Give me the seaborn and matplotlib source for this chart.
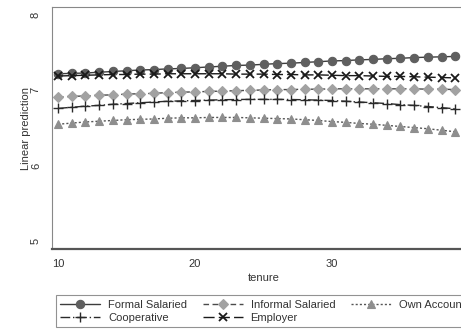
import matplotlib
matplotlib.use("Agg")
import matplotlib.pyplot as plt
import seaborn as sns
import numpy as np
from matplotlib.lines import Line2D

sns.set_style("white")
plt.rcParams['font.family'] = ['Liberation Sans', 'DejaVu Sans']

tenure = list(range(10, 40))
formal = [7.22, 7.225, 7.23, 7.24, 7.25, 7.26, 7.27, 7.275, 7.285, 7.29,
          7.30, 7.31, 7.32, 7.33, 7.335, 7.345, 7.355, 7.36, 7.37, 7.38,
          7.39, 7.395, 7.405, 7.41, 7.42, 7.425, 7.435, 7.44, 7.445, 7.45]
informal = [6.91, 6.92, 6.925, 6.935, 6.94, 6.95, 6.955, 6.96, 6.97, 6.975,
            6.98, 6.985, 6.99, 6.995, 7.0, 7.005, 7.01, 7.01, 7.015, 7.015,
            7.02, 7.02, 7.02, 7.02, 7.02, 7.02, 7.02, 7.015, 7.015, 7.01]
own_account = [6.55, 6.565, 6.58, 6.59, 6.60, 6.61, 6.615, 6.62, 6.63, 6.635,
               6.635, 6.64, 6.64, 6.64, 6.635, 6.63, 6.625, 6.62, 6.61, 6.60,
               6.585, 6.575, 6.56, 6.55, 6.535, 6.52, 6.505, 6.49, 6.47, 6.45]
cooperative = [6.76, 6.775, 6.79, 6.80, 6.815, 6.825, 6.835, 6.845, 6.855, 6.86,
               6.865, 6.87, 6.875, 6.878, 6.88, 6.88, 6.88, 6.878, 6.875, 6.87,
               6.865, 6.855, 6.845, 6.835, 6.825, 6.81, 6.80, 6.785, 6.77, 6.755]
employer = [7.19, 7.195, 7.20, 7.205, 7.21, 7.21, 7.215, 7.215, 7.22, 7.22,
            7.22, 7.22, 7.22, 7.215, 7.215, 7.215, 7.21, 7.21, 7.205, 7.205,
            7.20, 7.195, 7.195, 7.19, 7.185, 7.185, 7.18, 7.175, 7.17, 7.165]

names = ["Formal Salaried", "Informal Salaried", "Own Account", "Cooperative", "Employer"]
values = [formal, informal, own_account, cooperative, employer]
styles = [
    dict(color="#3c3c3c", linestyle="-", marker="o", mfc="#5f5f5f", mec="#5f5f5f", ms=6, mew=0.8),
    dict(color="#4a4a4a", linestyle=(0, (4, 2.5)), marker="D", mfc="#a2a2a2", mec="#a2a2a2", ms=4.8, mew=0.8),
    dict(color="#555555", linestyle=(0, (1.5, 1.5)), marker="^", mfc="#8e8e8e", mec="#8e8e8e", ms=5.5, mew=0.8),
    dict(color="#2a2a2a", linestyle=(0, (7, 2, 1, 2)), marker="+", mfc="#2a2a2a", mec="#2a2a2a", ms=7.5, mew=1.0),
    dict(color="#1a1a1a", linestyle=(0, (8, 3)), marker="x", mfc="#1a1a1a", mec="#1a1a1a", ms=5.5, mew=1.3),
]

fig = plt.figure(figsize=(4.61, 3.29), dpi=100)
ax = fig.add_axes([52/461, 80/329, 423/461, 242/329])

for name, vals, st in zip(names, values, styles):
    sns.lineplot(x=tenure, y=vals, ax=ax, color=st["color"], linestyle=st["linestyle"],
                 marker=st["marker"], markerfacecolor=st["mfc"], markeredgecolor=st["mec"],
                 markersize=st["ms"], markeredgewidth=st["mew"], linewidth=1.0,
                 label=name, legend=False)

ax.set_xlim(9.56, 40.44)
ax.set_ylim(4.894, 8.106)
ax.set_xticks([10, 20, 30, 40])
ax.set_yticks([5, 6, 7, 8])
ax.tick_params(axis='both', direction='out', length=4, width=0.8, color="#555555",
               labelsize=8, labelcolor="#333333", pad=3)
ax.tick_params(axis='y', labelrotation=90, pad=4)
for lab in ax.get_yticklabels():
    lab.set_va('center')
ax.set_xlabel("tenure", fontsize=8, color="#333333", labelpad=3)
ax.set_ylabel("Linear prediction", fontsize=8, color="#333333", labelpad=0)
for s in ["left", "top", "right"]:
    ax.spines[s].set_color("#888888")
    ax.spines[s].set_linewidth(0.8)
ax.spines["bottom"].set_color("#555555")
ax.spines["bottom"].set_linewidth(1.6)

handles = []
for name, st in zip(names, styles):
    handles.append(Line2D([], [], color=st["color"], linestyle=st["linestyle"], marker=st["marker"],
                          markerfacecolor=st["mfc"], markeredgecolor=st["mec"], markersize=st["ms"],
                          markeredgewidth=st["mew"], linewidth=1.0, label=name))
order = [0, 3, 1, 4, 2]
leg = fig.legend([handles[i] for i in order], [names[i] for i in order], ncol=3,
                 loc="lower left", bbox_to_anchor=(56/461, 2/329), fontsize=8,
                 frameon=True, fancybox=False, edgecolor="#777777", handlelength=3.6,
                 handletextpad=0.7, columnspacing=1.4, borderpad=0.4, labelspacing=0.25,
                 borderaxespad=0)
leg.get_frame().set_linewidth(0.8)
for t in leg.get_texts():
    t.set_color("#333333")

fig.savefig("out.png", dpi=100, facecolor="white")
